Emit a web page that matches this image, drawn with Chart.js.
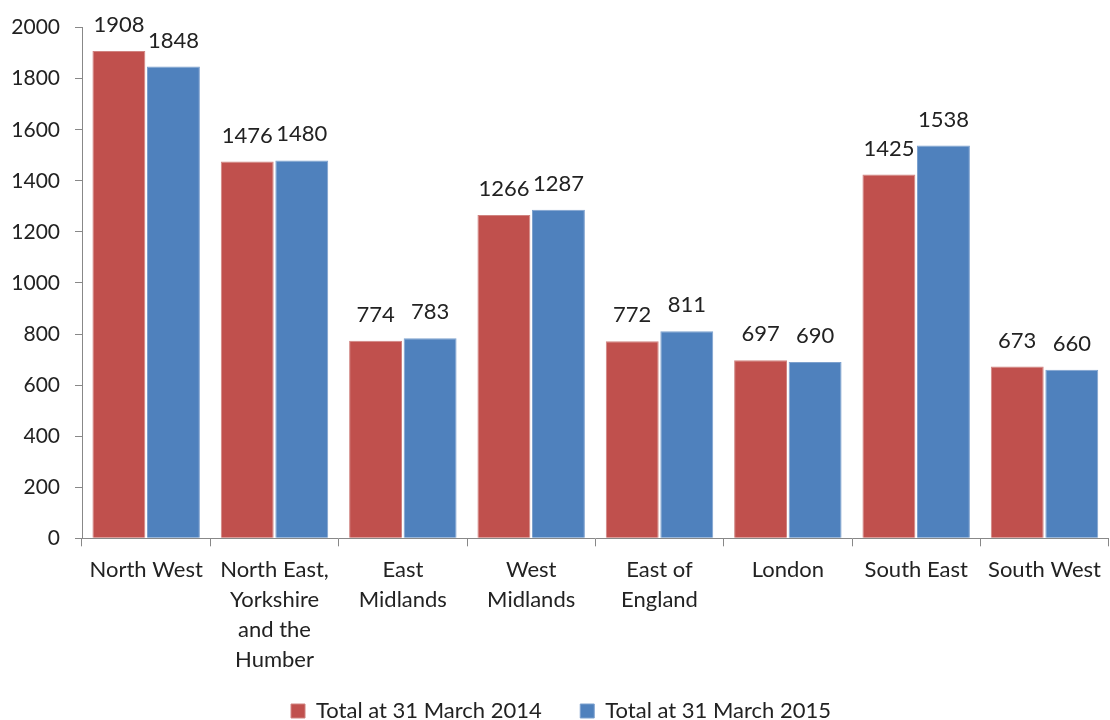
<!DOCTYPE html>
<html>
<head>
<meta charset="utf-8">
<script src="https://cdn.jsdelivr.net/npm/chart.js@4"></script>
<style>
  html, body { margin: 0; padding: 0; background: #fff; }
  #wrap { width: 1110px; height: 720px; }
</style>
</head>
<body>
<div id="wrap"><canvas id="regionChart"></canvas></div>
<script>
// regions (multi-line labels as shown under the axis)
const regions = [
    ['North West'],
    ['North East,', 'Yorkshire', 'and the', 'Humber'],
    ['East', 'Midlands'],
    ['West', 'Midlands'],
    ['East of', 'England'],
    ['London'],
    ['South East'],
    ['South West']
];
const total2014 = [1908, 1476, 774, 1266, 772, 697, 1425, 673];
const total2015 = [1848, 1480, 783, 1287, 811, 690, 1538, 660];
const seriesNames = ['Total at 31 March 2014', 'Total at 31 March 2015'];
const yTicks = [0, 200, 400, 600, 800, 1000, 1200, 1400, 1600, 1800, 2000];

const FONT = 'Lato, "Open Sans", sans-serif';

// draws the number above each bar
const valueLabels = {
    id: 'valueLabels',
    afterDatasetsDraw(chart) {
        const ctx = chart.ctx;
        ctx.save();
        ctx.font = '22px ' + FONT;
        ctx.fillStyle = '#222';
        ctx.textAlign = 'center';
        ctx.textBaseline = 'bottom';
        chart.data.datasets.forEach((ds, i) => {
            chart.getDatasetMeta(i).data.forEach((bar, j) => {
                ctx.fillText(ds.data[j], bar.x, bar.y - 15);
            });
        });
        ctx.restore();
    }
};

const defaultLabels = Chart.defaults.plugins.legend.labels.generateLabels;

new Chart(document.getElementById('regionChart'), {
    type: 'bar',
    data: {
        labels: regions,
        datasets: [{
            label: seriesNames[0],
            data: total2014,
            backgroundColor: '#C0504D',
            borderColor: '#D08380',
            borderWidth: 1
        }, {
            label: seriesNames[1],
            data: total2015,
            backgroundColor: '#4F81BD',
            borderColor: '#7DA1CE',
            borderWidth: 1
        }]
    },
    options: {
        responsive: true,
        maintainAspectRatio: false,
        animation: false,
        layout: { padding: { top: 21, left: 12, right: 0, bottom: -12 } },
        datasets: { bar: { categoryPercentage: 0.85, barPercentage: 0.97 } },
        plugins: {
            legend: {
                position: 'bottom',
                labels: {
                    font: { family: FONT, size: 22 },
                    color: '#222',
                    boxWidth: 14,
                    boxHeight: 14,
                    padding: 0,
                    // a bit of room between the two entries
                    generateLabels: chart => defaultLabels(chart).map((l, i) =>
                        i === 0 ? Object.assign(l, { text: l.text + '\u2003\u2003\u2009\u2009' }) : l)
                }
            },
            tooltip: { enabled: false }
        },
        scales: {
            x: {
                grid: { display: true, drawOnChartArea: false, offset: true, tickLength: 8, color: '#888' },
                border: { color: '#888' },
                ticks: {
                    font: { family: FONT, size: 22, lineHeight: 1.36 },
                    color: '#222',
                    maxRotation: 0,
                    autoSkip: false,
                    padding: 9
                },
                afterFit: axis => { axis.height += 16; }
            },
            y: {
                min: 0,
                max: 2000,
                afterBuildTicks: axis => { axis.ticks = yTicks.map(v => ({ value: v })); },
                afterFit: axis => { axis.width = 70; },
                grid: { display: true, drawOnChartArea: false, tickLength: 7, color: '#888' },
                border: { color: '#888' },
                ticks: {
                    font: { family: FONT, size: 21 },
                    color: '#222',
                    padding: 15,
                    callback: v => String(v)
                }
            }
        }
    },
    plugins: [valueLabels]
});
</script>
</body>
</html>
